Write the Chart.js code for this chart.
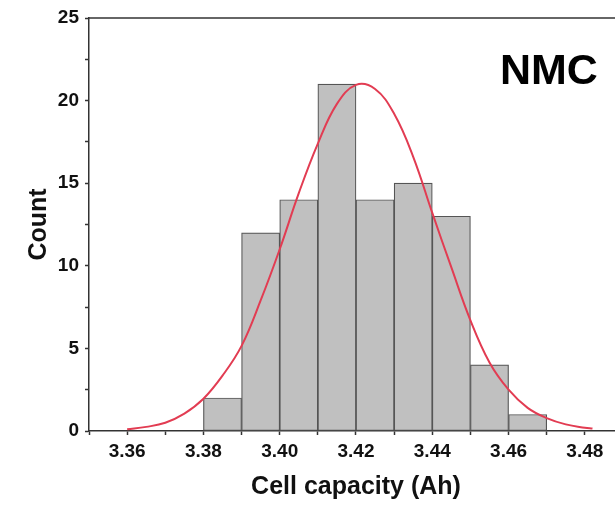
<!DOCTYPE html>
<html lang="en">
<head>
  <meta charset="UTF-8">
  <title>NMC cell capacity histogram</title>
  <script src="https://cdn.jsdelivr.net/npm/chart.js"></script>
  <style>
    html, body { margin: 0; padding: 0; background: #fff; overflow: hidden; }
  </style>
</head>
<body>
  <canvas id="histChart" width="630" height="505"></canvas>

  <script>
// histogram bins (centres) and counts
const binCenters = [3.385, 3.395, 3.405, 3.415, 3.425, 3.435, 3.445, 3.455, 3.465];
const binCounts = [2, 12, 14, 21, 14, 15, 13, 4, 1];

// fitted normal curve
const curveX = [3.36, 3.365, 3.37, 3.375, 3.38, 3.385, 3.39, 3.395, 3.40, 3.405, 3.41, 3.415, 3.42,
                3.425, 3.43, 3.435, 3.44, 3.445, 3.45, 3.455, 3.46, 3.465, 3.47, 3.475, 3.48, 3.482];
const curveY = [0.1, 0.25, 0.5, 1.05, 1.95, 3.35, 5.15, 7.9, 11.0, 14.4, 17.4, 19.8, 20.95,
                20.7, 19.2, 16.6, 13.2, 9.9, 6.7, 4.15, 2.5, 1.4, 0.78, 0.4, 0.2, 0.15];

const panelLabel = 'NMC';
const xTitle = 'Cell capacity (Ah)';
const yTitle = 'Count';

const FONT = "'Liberation Sans', Arial, sans-serif";
const AXIS_COLOR = '#333333';

// top frame line + panel label
const framePlugin = {
    id: 'frame',
    afterDraw(chart) {
        const { ctx, chartArea } = chart;
        ctx.save();
        ctx.strokeStyle = AXIS_COLOR;
        ctx.lineWidth = 1.5;
        ctx.beginPath();
        ctx.moveTo(chartArea.left, chartArea.top);
        ctx.lineTo(chartArea.right, chartArea.top);
        ctx.stroke();

        ctx.fillStyle = '#000';
        ctx.font = 'bold 43px ' + FONT;
        ctx.textBaseline = 'alphabetic';
        ctx.textAlign = 'left';
        ctx.fillText(panelLabel, 500, 83.5);
        ctx.restore();
    }
};

const ctx = document.getElementById('histChart').getContext('2d');
const histChart = new Chart(ctx, {
    data: {
        datasets: [
            {
                type: 'line',
                label: 'Normal fit',
                data: curveX.map((x, i) => ({ x: x, y: curveY[i] })),
                borderColor: 'rgb(226, 60, 82)',
                borderWidth: 2,
                pointRadius: 0,
                tension: 0.4,
                fill: false,
                order: 0
            },
            {
                type: 'bar',
                label: 'Count',
                data: binCenters.map((x, i) => ({ x: x, y: binCounts[i] })),
                backgroundColor: '#c0c0c0',
                borderColor: '#555555',
                borderWidth: 1.2,
                borderSkipped: false,
                barPercentage: 1,
                categoryPercentage: 1,
                order: 1
            }
        ]
    },
    options: {
        responsive: false,
        animation: false,
        devicePixelRatio: 1,
        layout: {
            padding: { left: 0, top: 18, right: 7, bottom: 0 }
        },
        plugins: {
            legend: { display: false },
            tooltip: { enabled: false }
        },
        scales: {
            x: {
                type: 'linear',
                min: 3.35,
                max: 3.49,
                offset: false,
                grid: {
                    offset: false,
                    drawOnChartArea: false,
                    tickLength: 4,
                    tickWidth: 1.5,
                    tickColor: AXIS_COLOR
                },
                border: { color: AXIS_COLOR, width: 1.5 },
                ticks: {
                    stepSize: 0.01,
                    autoSkip: false,
                    maxRotation: 0,
                    padding: 5,
                    color: '#111',
                    font: { family: FONT, size: 19, weight: 'bold' },
                    callback: function(value) {
                        const v = Math.round(value * 100);
                        return v % 2 === 0 ? (v / 100).toFixed(2) : '';
                    }
                },
                title: {
                    display: true,
                    text: xTitle,
                    color: '#111',
                    font: { family: FONT, size: 25, weight: 'bold' },
                    padding: { top: 0, bottom: 3 }
                },
                afterFit: function(scale) { scale.height = 74; }
            },
            y: {
                min: 0,
                max: 25,
                grid: {
                    drawOnChartArea: false,
                    tickLength: 4,
                    tickWidth: 1.5,
                    tickColor: AXIS_COLOR
                },
                border: { color: AXIS_COLOR, width: 1.5 },
                ticks: {
                    stepSize: 2.5,
                    autoSkip: false,
                    padding: 6,
                    color: '#111',
                    font: { family: FONT, size: 19, weight: 'bold' },
                    callback: function(value) {
                        return value % 5 === 0 ? String(value) : '';
                    }
                },
                title: {
                    display: true,
                    text: yTitle,
                    color: '#111',
                    font: { family: FONT, size: 25, weight: 'bold' },
                    padding: { top: 24.5, bottom: 0 }
                },
                afterFit: function(scale) { scale.width = 89; }
            }
        }
    },
    plugins: [framePlugin]
});
  </script>
</body>
</html>
